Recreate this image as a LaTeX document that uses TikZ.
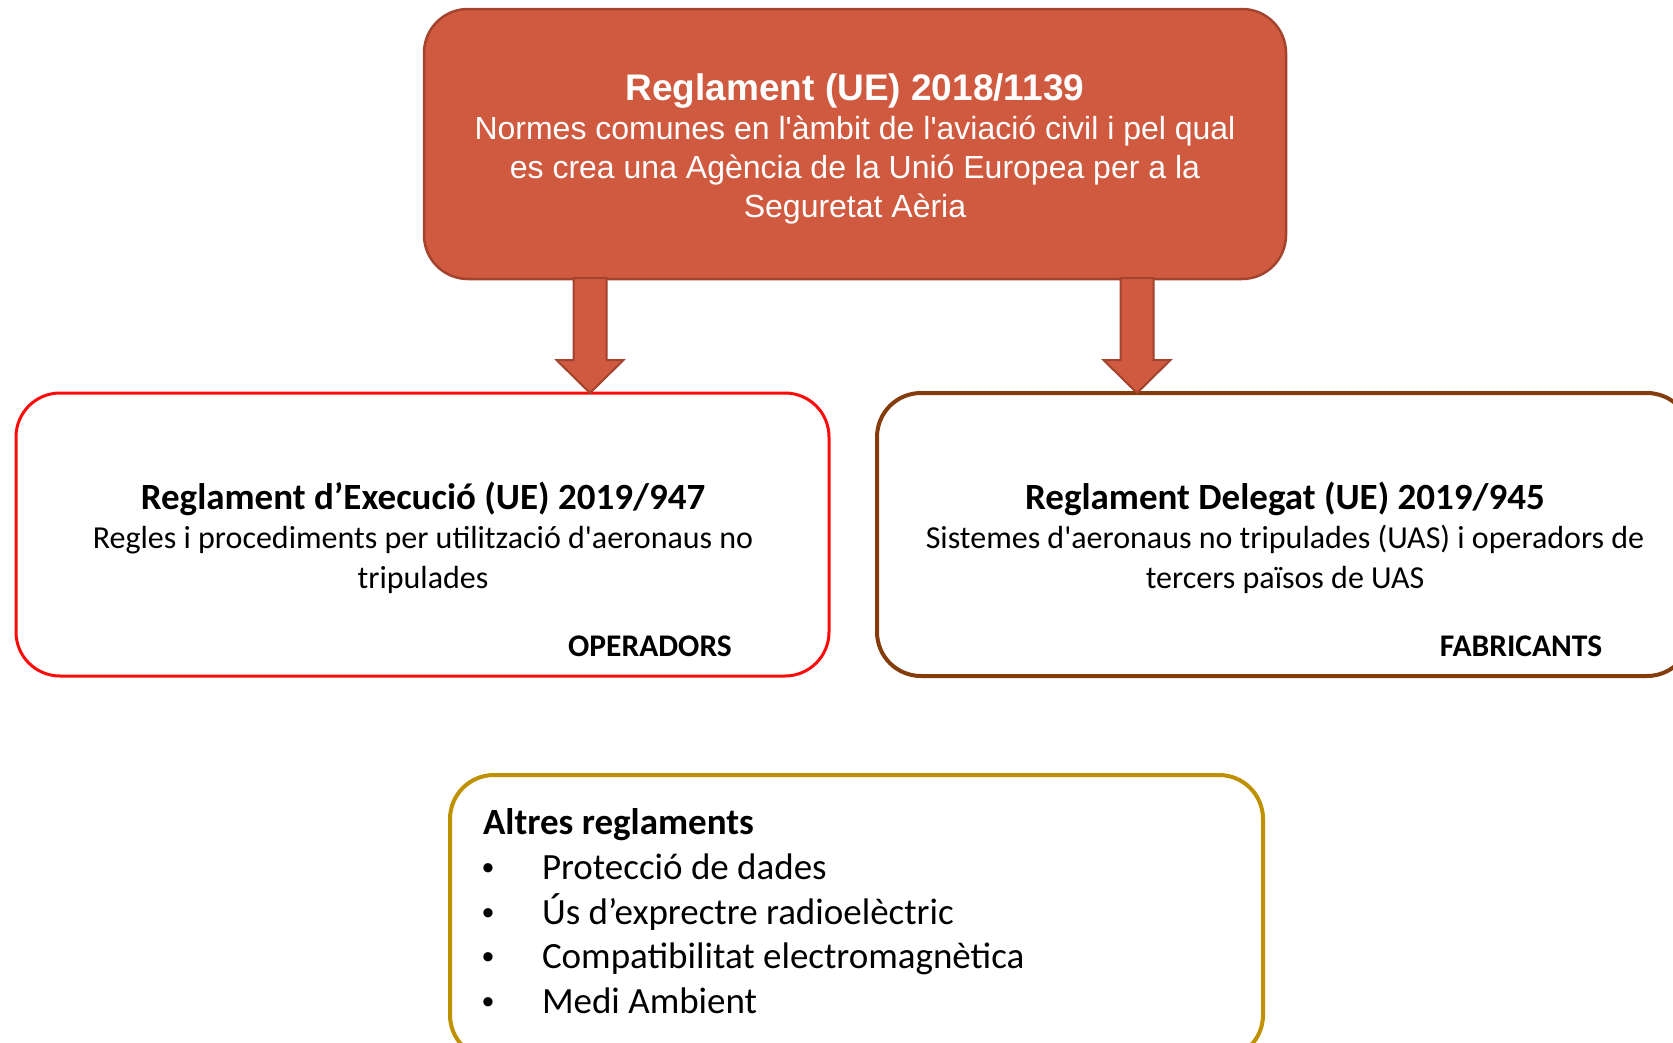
\documentclass[tikz,border=0pt]{standalone}
\usepackage{fontspec}
\newfontfamily\arialf[Ligatures=TeXOff]{Liberation Sans}
\newfontfamily\calf[Ligatures=TeXOff]{Carlito}
\definecolor{topfill}{RGB}{208,90,64}
\definecolor{topdraw}{RGB}{163,66,45}
\definecolor{redline}{RGB}{255,10,10}
\definecolor{brownline}{RGB}{132,60,12}
\definecolor{goldline}{RGB}{191,144,0}
\begin{document}
\begin{tikzpicture}[x=1pt,y=-1pt,
  box/.style={rounded corners=44pt, inner sep=0pt, outer sep=0pt},
  topbox/.style={box, fill=topfill, draw=topdraw, line width=2.5pt},
  leftbox/.style={box, draw=redline, line width=3pt},
  rightbox/.style={box, draw=brownline, line width=4pt},
  botbox/.style={box, draw=goldline, line width=4pt},
  blk/.style={fill=topfill, draw=topdraw, line width=2pt, line join=miter},
  txt/.style={inner sep=0pt, outer sep=0pt, anchor=base},
  ttitle/.style={txt, text=white, font=\arialf\bfseries\fontsize{37}{44}\selectfont},
  tbody/.style={txt, text=white, font=\arialf\fontsize{32}{39}\selectfont},
  ctitle/.style={txt, font=\calf\bfseries\fontsize{37}{44}\selectfont},
  cbody/.style={txt, font=\calf\fontsize{32}{39}\selectfont},
  ctag/.style={txt, font=\calf\bfseries\fontsize{31.5}{38}\selectfont},
  citem/.style={txt, anchor=base west, font=\calf\fontsize{37}{44}\selectfont},
  cbullet/.style={txt, anchor=base west, font=\arialf\fontsize{34}{40}\selectfont}
]
\useasboundingbox (0,0) rectangle (1673,1042);
\clip (0,0) rectangle (1673,1042);

% boxes
\node[topbox, minimum width=862pt, minimum height=270pt] (top) at (855,144) {};
\node[leftbox, minimum width=813pt, minimum height=283pt] (left) at (422.5,534.5) {};
\node[rightbox, minimum width=814pt, minimum height=283pt] (right) at (1284,534.5) {};
\node[botbox, minimum width=813pt, minimum height=284pt] (bot) at (856.5,917) {};

% block arrows
\coordinate (s1) at (590,278);
\coordinate (t1) at (s1 |- left.north);
\coordinate (s2) at (1137,278);
\coordinate (t2) at (s2 |- right.north);
\foreach \s/\t in {s1/t1, s2/t2}{
  \draw[blk] ([xshift=-16.5pt]\s) -- ([xshift=-16.5pt,yshift=33pt]\t)
    -- ([xshift=-33.5pt,yshift=33pt]\t) -- (\t)
    -- ([xshift=33.5pt,yshift=33pt]\t) -- ([xshift=16.5pt,yshift=33pt]\t)
    -- ([xshift=16.5pt]\s) -- cycle;
}

% top box text
\node[ttitle] (tt) at (855,100) {Reglament (UE) 2018/1139};
\node[tbody] (tb1) at (855,139) {Normes comunes en l'àmbit de l'aviació civil i pel qual};
\node[tbody] (tb2) at (855,178) {es crea una Agència de la Unió Europea per a la};
\node[tbody] (tb3) at (855,217) {Seguretat Aèria};

% left box text
\node[ctitle] (lt) at (423,509) {Reglament d’Execució (UE) 2019/947};
\node[cbody] (lb1) at (423,548) {Regles i procediments per utilització d'aeronaus no};
\node[cbody] (lb2) at (423,588) {tripulades};
\node[ctag] (ltag) at (650,656) {OPERADORS};

% right box text
\node[ctitle] (rt) at (1285,509) {Reglament Delegat (UE) 2019/945};
\node[cbody] (rb1) at (1285,548) {Sistemes d'aeronaus no tripulades (UAS) i operadors de};
\node[cbody] (rb2) at (1285,588) {tercers països de UAS};
\node[ctag] (rtag) at (1521,656) {FABRICANTS};

% bottom box text
\node[citem, font=\calf\bfseries\fontsize{37}{44}\selectfont] (bt) at (483,834) {Altres reglaments};
\foreach \y/\w [count=\i] in {879/{Protecció de dades}, 924/{Ús d’exprectre radioelèctric}, 968/{Compatibilitat electromagnètica}, 1013/{Medi Ambient}}{
  \node[cbullet] (bul\i) at (482,\y) {•};
  \node[citem] (item\i) at (542,\y) {\w};
}
\end{tikzpicture}
\end{document}
